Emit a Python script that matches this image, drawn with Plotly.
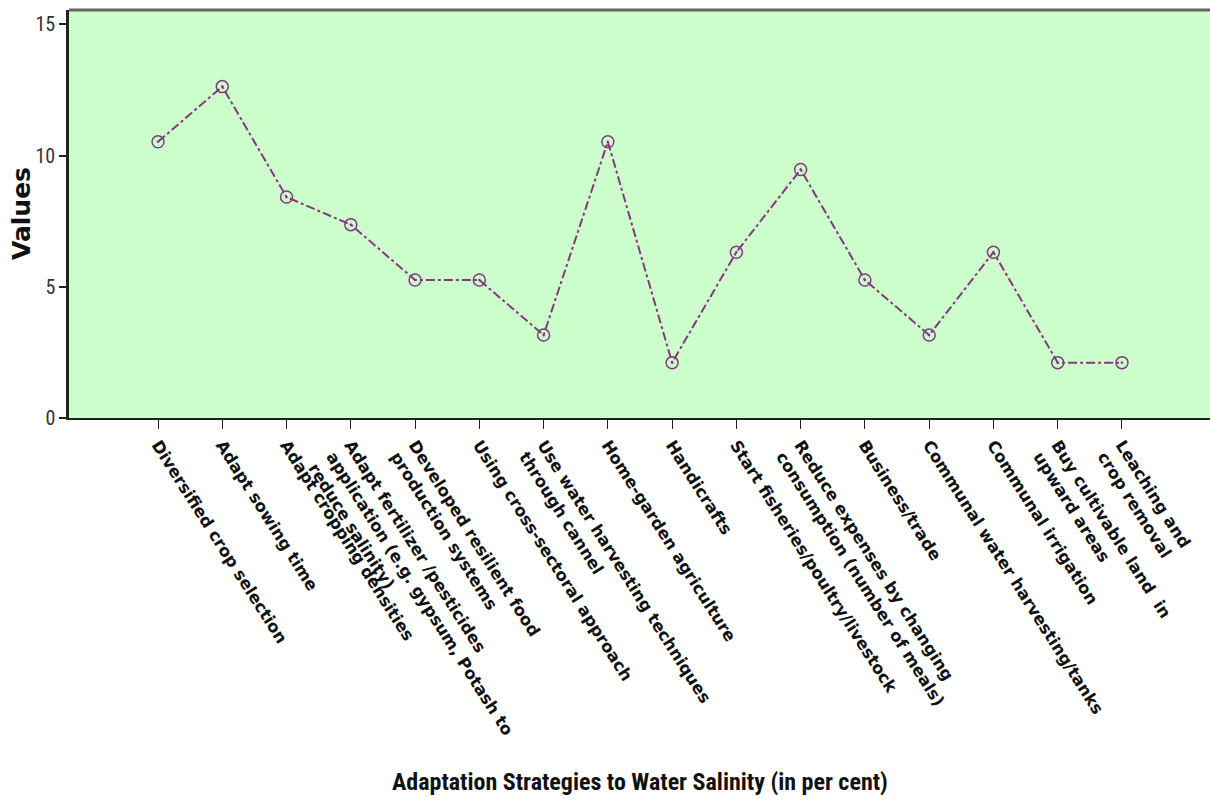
import plotly.graph_objects as go

# Adaptation strategies and share of respondents (per cent)
strategies = [
    "Diversified crop selection",
    "Adapt sowing time",
    "Adapt cropping densities",
    "Adapt fertilizer /pesticides<br>application (e.g. gypsum, Potash to<br>reduce salinity)",
    "Developed resilient food<br>production systems",
    "Using cross-sectoral approach",
    "Use water harvesting techniques<br>through cannel",
    "Home-garden agriculture",
    "Handicrafts",
    "Start fisheries/poultry/livestock",
    "Reduce expenses by changing<br>consumption (number of meals)",
    "Business/trade",
    "Communal water harvesting/tanks",
    "Communal irrigation",
    "Buy cultivable land  in<br>upward areas",
    "Leaching and<br>crop removal",
]
values = [10.53, 12.63, 8.42, 7.37, 5.26, 5.26, 3.16, 10.53,
          2.11, 6.32, 9.47, 5.26, 3.16, 6.32, 2.11, 2.11]
y_ticks = [0, 5, 10, 15]

idx = list(range(len(strategies)))
purple = "#84397f"
condensed = "Roboto Condensed, Liberation Sans, Arial"

fig = go.Figure()
fig.add_trace(go.Scatter(
    x=idx, y=values, mode="lines+markers",
    line=dict(color=purple, width=2, dash="dashdot"),
    marker=dict(symbol="circle-open-dot", size=12, color=purple,
                line=dict(width=1.5, color=purple)),
    showlegend=False,
))

fig.update_layout(
    width=1210, height=803,
    margin=dict(l=69, r=0, t=10, b=385),
    paper_bgcolor="white",
    plot_bgcolor="#ccffcc",
    xaxis=dict(
        range=[-1.385, 16.37],
        tickmode="array", tickvals=idx, ticktext=strategies,
        tickangle=57.5,
        ticks="outside", ticklen=9, tickcolor="#222", tickwidth=1.2,
        tickfont=dict(family="DejaVu Sans, Liberation Sans", size=16.5, color="#111", weight="bold"),
        showgrid=False, zeroline=False,
        showline=True, linecolor="#222", linewidth=2,
        mirror=False,
    ),
    yaxis=dict(
        range=[0, 15.55],
        tickmode="array", tickvals=y_ticks,
        ticks="outside", ticklen=7, tickcolor="#222", tickwidth=1.5,
        tickfont=dict(family=condensed, size=20, color="#333"),
        showgrid=False, zeroline=False,
        showline=True, linecolor="#222", linewidth=2.5,
    ),
    shapes=[dict(type="line", xref="paper", yref="paper",
                 x0=0, x1=1, y0=1, y1=1,
                 line=dict(color="#666", width=3))],
    annotations=[
        dict(text="Adaptation Strategies to Water Salinity (in per cent)",
             xref="paper", yref="paper", x=0.5, y=-0.892,
             xanchor="center", yanchor="middle", showarrow=False,
             font=dict(family=condensed, size=24, color="#111", weight="bold")),
        dict(text="Values", textangle=-90,
             xref="paper", yref="paper", x=-0.042, y=0.5,
             xanchor="center", yanchor="middle", showarrow=False,
             font=dict(family="DejaVu Sans, Liberation Sans", size=25, color="#111", weight="bold")),
    ],
)

fig.write_html("out.html")
